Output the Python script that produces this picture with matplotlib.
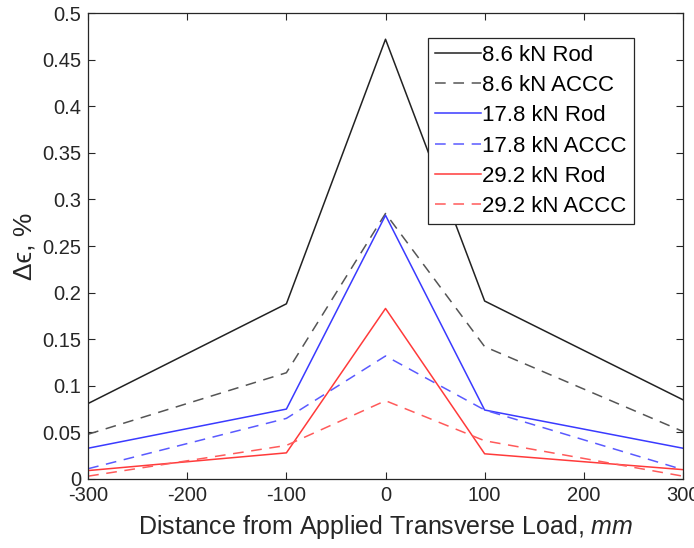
import matplotlib
matplotlib.use("Agg")
import matplotlib.pyplot as plt

plt.rcParams['font.family'] = ['Liberation Sans', 'DejaVu Sans']
plt.rcParams['mathtext.fontset'] = 'custom'
plt.rcParams['mathtext.rm'] = 'Liberation Sans'
plt.rcParams['mathtext.it'] = 'Liberation Sans:italic'

distance = [-300, -100, 0, 100, 300]
rod_8_6 = [0.081, 0.188, 0.472, 0.191, 0.085]
accc_8_6 = [0.048, 0.114, 0.285, 0.142, 0.051]
rod_17_8 = [0.033, 0.075, 0.283, 0.074, 0.033]
accc_17_8 = [0.011, 0.065, 0.132, 0.074, 0.010]
rod_29_2 = [0.009, 0.028, 0.183, 0.027, 0.010]
accc_29_2 = [0.003, 0.036, 0.084, 0.041, 0.003]

labels = ["8.6 kN Rod", "8.6 kN ACCC", "17.8 kN Rod", "17.8 kN ACCC",
          "29.2 kN Rod", "29.2 kN ACCC"]

fig = plt.figure(figsize=(6.94, 5.48), dpi=100)
ax = fig.add_axes([0.127, 0.126, 0.857, 0.850])

series = [
    (rod_8_6, '#222222', '-'),
    (accc_8_6, '#555555', (0, (7, 5))),
    (rod_17_8, '#3a3aff', '-'),
    (accc_17_8, '#5a5aff', (0, (7, 5))),
    (rod_29_2, '#ff3a3a', '-'),
    (accc_29_2, '#ff5a5a', (0, (7, 5))),
]
for (vals, c, ls), lab in zip(series, labels):
    ax.plot(distance, vals, color=c, linestyle=ls, linewidth=1.1, label=lab)

ax.set_xlim(-300, 300)
ax.set_ylim(0, 0.5)
ax.set_xticks([-300, -200, -100, 0, 100, 200, 300])
ax.set_xticklabels(["-300", "-200", "-100", "0", "100", "200", "300"])
yt = [0, 0.05, 0.1, 0.15, 0.2, 0.25, 0.3, 0.35, 0.4, 0.45, 0.5]
ax.set_yticks(yt)
ax.set_yticklabels(["0", "0.05", "0.1", "0.15", "0.2", "0.25", "0.3",
                    "0.35", "0.4", "0.45", "0.5"])
ax.tick_params(direction='in', top=True, right=True, length=5, width=0.8,
               labelsize=14.5, colors='#262626', pad=5)
for s in ax.spines.values():
    s.set_color('#262626')
    s.set_linewidth(0.9)

ax.set_xlabel(r"Distance from Applied Transverse Load, $\mathit{mm}$",
              fontsize=18, color='#262626', labelpad=6)
ax.set_ylabel("Δϵ, %", fontsize=19, color='#262626', labelpad=4,
              family=['Liberation Sans', 'DejaVu Sans'])

leg = ax.legend(loc='upper right', bbox_to_anchor=(0.917, 0.947), fontsize=16,
                handlelength=2.1, handletextpad=0.05, borderpad=0.3,
                labelspacing=0.42, fancybox=False, framealpha=1,
                edgecolor='#262626', borderaxespad=0)
leg.get_frame().set_linewidth(0.9)

fig.savefig("out.png", dpi=100)
